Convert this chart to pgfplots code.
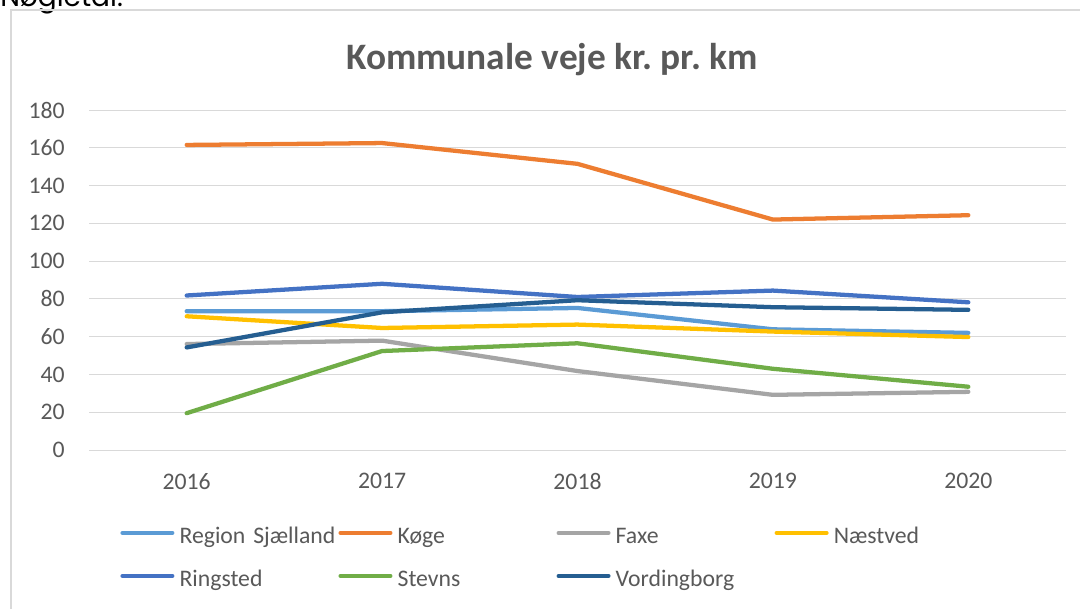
\documentclass[border=0pt]{standalone}
\usepackage{pgfplots}
\pgfplotsset{compat=1.18}
\usepackage{fontspec}
\setmainfont{Carlito}
\newfontfamily\headfont{Poppins}
\definecolor{regsj}{HTML}{5B9BD5}
\definecolor{koge}{HTML}{ED7D31}
\definecolor{faxe}{HTML}{A5A5A5}
\definecolor{naestved}{HTML}{FFC000}
\definecolor{ringsted}{HTML}{4472C4}
\definecolor{stevns}{HTML}{70AD47}
\definecolor{vording}{HTML}{255E91}
\definecolor{textgray}{HTML}{595959}
\definecolor{gridgray}{HTML}{D9D9D9}
\definecolor{bordergray}{HTML}{D9D9D9}
\frenchspacing
\hyphenpenalty=10000
\begin{document}
\begin{tikzpicture}[x=0.75pt,y=0.75pt]
\useasboundingbox (0,0) rectangle (1080,608);
\clip (0,0) rectangle (1080,608);
\fill[white] (0,0) rectangle (1080,608);
\node[anchor=base west, inner sep=0pt, font=\headfont\fontsize{21}{25}\selectfont] at (0,601) {Nøgletal:};
\draw[bordergray, line width=1.5pt] (10.5,-50) -- (10.5,597.5) -- (1200,597.5);
\node[anchor=base, inner sep=0pt, text=textgray, font=\fontsize{28}{33}\selectfont\bfseries] at (552,538) {Kommunale veje kr. pr. km};
\begin{axis}[
  at={(66.75pt,118.5pt)}, anchor=south west,
  scale only axis, width=732.75pt, height=255pt,
  xmin=-0.5, xmax=4.5, ymin=0, ymax=180,
  xtick={0,1,2,3,4}, xticklabels={2016,2017,2018,2019,2020},
  ytick={0,20,40,60,80,100,120,140,160,180},
  /pgf/number format/assume math mode=true,
  ymajorgrids, grid style={gridgray, line width=0.75pt},
  axis line style={draw=none},
  major tick length=0pt,
  tick label style={font=\fontsize{17.8}{21}\selectfont, text=textgray},
  yticklabel style={anchor=east, inner sep=0pt, xshift=-18pt},
  xticklabel style={anchor=north, inner sep=0pt, yshift=-17.25pt},
  every axis plot/.append style={line width=3.2pt, line cap=round, line join=round},
  legend columns=4,
  legend image code/.code={\path (0pt,3.5pt) (40.5pt,3.5pt);\draw[#1, line width=3pt, line cap=round] (1.5pt,3.5pt) -- (39pt,3.5pt);},
  legend style={draw=none, fill=none, at={(0.0256,-0.2156)}, anchor=north west,
    font=\fontsize{17.8}{21}\selectfont, text=textgray,
    /tikz/every odd column/.append style={column sep=2.25pt},
    /tikz/every even column/.append style={column sep=0pt},
    nodes={inner sep=0pt, text width=117.6pt, align=left, text height=13pt, text depth=4pt},
    row sep=15.25pt},
]
\addplot[regsj] coordinates {(0,73.5) (1,73.5) (2,75.2) (3,63.9) (4,62)};
\addlegendentry{Region Sjælland}
\addplot[koge] coordinates {(0,161.5) (1,162.5) (2,151.5) (3,122) (4,124.3)};
\addlegendentry{Køge}
\addplot[faxe] coordinates {(0,56.1) (1,57.9) (2,41.8) (3,29.2) (4,30.8)};
\addlegendentry{Faxe}
\addplot[naestved] coordinates {(0,70.8) (1,64.6) (2,66.4) (3,62.7) (4,59.8)};
\addlegendentry{Næstved}
\addplot[ringsted] coordinates {(0,81.8) (1,88) (2,81) (3,84.4) (4,78.2)};
\addlegendentry{Ringsted}
\addplot[stevns] coordinates {(0,19.5) (1,52.4) (2,56.5) (3,43) (4,33.5)};
\addlegendentry{Stevns}
\addplot[vording] coordinates {(0,54.3) (1,72.9) (2,79.3) (3,75.6) (4,74.2)};
\addlegendentry{Vordingborg}
\end{axis}
\end{tikzpicture}
\end{document}
